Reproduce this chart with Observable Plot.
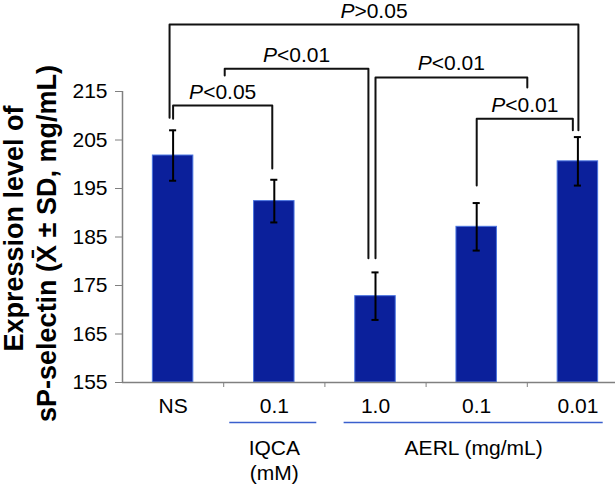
<!DOCTYPE html>
<html>
<head>
<meta charset="utf-8">
<script src="https://cdn.jsdelivr.net/npm/d3@7"></script>
<script src="https://cdn.jsdelivr.net/npm/@observablehq/plot@0.6"></script>
<style>
  html, body { margin: 0; padding: 0; background: #fff; overflow: hidden; }
  #chart svg { display: block; }
</style>
</head>
<body>
<div id="chart"></div>
<script>
// ---- data ----
const categories = ["NS", "0.1", "1.0", "0.1", "0.01"];
const means = [201.8, 192.4, 172.8, 187.1, 200.6];
const sds = [5.2, 4.4, 4.9, 4.9, 5.0];
const yTicks = [155, 165, 175, 185, 195, 205, 215];

// significance brackets (x in category index units, y in data units)
const bracketText = ["P>0.05", "P<0.05", "P<0.01", "P<0.01", "P<0.01"];
const bracketFrom = [-0.035, 0.0, 0.51, 2.0, 3.0];
const bracketTo = [4.005, 0.98, 1.93, 3.5, 3.95];
const bracketTop = [228.8, 212.1, 219.7, 217.9, 209.4];
const bracketFromEnd = [209.6, 209.4, 218.3, 180.6, 195.6];
const bracketToEnd = [207.0, 199.1, 180.6, 215.8, 207.0];

// treatment groups under the axis
const groupText = ["IQCA\n(mM)", "AERL (mg/mL)"];
const groupX = [1.0, 2.97];
const groupFrom = [0.56, 1.69];
const groupTo = [1.42, 4.25];

const titleLines = ["Expression level of", "sP-selectin (X\u0304 \u00B1 SD, mg/mL)"];

// ---- derived tables ----
const idx = d3.range(categories.length);
const bIdx = d3.range(bracketText.length);
const gIdx = d3.range(groupText.length);
const bracketPts = bIdx.flatMap(i => [
  {b: i, x: bracketFrom[i], y: bracketFromEnd[i]},
  {b: i, x: bracketFrom[i], y: bracketTop[i]},
  {b: i, x: bracketTo[i], y: bracketTop[i]},
  {b: i, x: bracketTo[i], y: bracketToEnd[i]}
]);

const FONT = "'Liberation Sans', Arial, Helvetica, sans-serif";
const barHalf = 0.2, capHalf = 0.035;

const chart = Plot.plot({
  width: 615,
  height: 484,
  marginLeft: 122,
  marginRight: 0,
  marginTop: 0,
  marginBottom: 102,
  style: {fontFamily: FONT, fontSize: "21px", background: "#fff", color: "#000"},
  x: {type: "linear", domain: [-0.5, 4.5], range: [122, 628]},
  y: {domain: [155, 215], range: [382, 91]},
  marks: [
    // bars
    Plot.rect(idx, {
      x1: i => i - barHalf, x2: i => i + barHalf,
      y1: 155, y2: i => means[i],
      fill: "#0b209b", stroke: "#4a74e0", strokeWidth: 1
    }),
    // error bars
    Plot.ruleX(idx, {x: i => i, y1: i => means[i] - sds[i], y2: i => means[i] + sds[i], stroke: "#000", strokeWidth: 2}),
    Plot.ruleY(idx, {y: i => means[i] + sds[i], x1: i => i - capHalf, x2: i => i + capHalf, stroke: "#000", strokeWidth: 2}),
    Plot.ruleY(idx, {y: i => means[i] - sds[i], x1: i => i - capHalf, x2: i => i + capHalf, stroke: "#000", strokeWidth: 2}),
    // axes lines
    Plot.ruleX([-0.5], {y1: 155, y2: 215, stroke: "#808080", strokeWidth: 1.5}),
    Plot.ruleY([155], {x1: -0.5, x2: 4.5, stroke: "#808080", strokeWidth: 1.5}),
    Plot.axisY(yTicks, {anchor: "left", tickSize: 7, tickPadding: 8, fontSize: 21, stroke: "#808080", fill: "#000", label: null}),
    Plot.axisX([0.5, 1.5, 2.5, 3.5], {anchor: "bottom", tickSize: 5, tickFormat: () => "", stroke: "#808080", label: null}),
    Plot.axisX(idx, {anchor: "bottom", tickSize: 0, tickPadding: 16, tickFormat: i => categories[i], fontSize: 21, fill: "#000", label: null}),
    // group annotations
    Plot.ruleY(gIdx, {y: 155, dy: 40, x1: i => groupFrom[i], x2: i => groupTo[i], stroke: "#3a5fcd", strokeWidth: 1.5}),
    Plot.text(gIdx, {x: i => groupX[i], y: 155, dy: 54, text: i => groupText[i], lineAnchor: "top", lineHeight: 1.22, fontSize: 21, fill: "#000"}),
    // significance brackets
    Plot.line(bracketPts, {x: "x", y: "y", z: "b", stroke: "#111", strokeWidth: 2, curve: "linear"}),
    Plot.text(bIdx, {x: i => (bracketFrom[i] + bracketTo[i]) / 2, y: i => bracketTop[i], text: i => bracketText[i], lineAnchor: "bottom", dy: -7, fontSize: 21, fill: "#000"}),
    // y title
    Plot.text([titleLines[0]], {frameAnchor: "left", text: d => d, rotate: -90, dx: -100, dy: 37, textAnchor: "middle", lineAnchor: "bottom", fontSize: 27, fontWeight: "bold", fill: "#000"}),
    Plot.text([titleLines[1]], {frameAnchor: "left", text: d => d, rotate: -90, dx: -67, dy: 52, textAnchor: "middle", lineAnchor: "bottom", fontSize: 27, fontWeight: "bold", fill: "#000"})
  ]
});

// italic "P" in the significance labels
const NS = "http://www.w3.org/2000/svg";
chart.querySelectorAll("text").forEach(t => {
  const s = t.textContent;
  if (/^P[<>]/.test(s) && t.children.length === 0) {
    t.textContent = "";
    const a = document.createElementNS(NS, "tspan");
    a.setAttribute("font-style", "italic");
    a.textContent = "P";
    const b = document.createElementNS(NS, "tspan");
    b.textContent = s.slice(1);
    t.appendChild(a);
    t.appendChild(b);
  }
});

document.getElementById("chart").appendChild(chart);
</script>
</body>
</html>
